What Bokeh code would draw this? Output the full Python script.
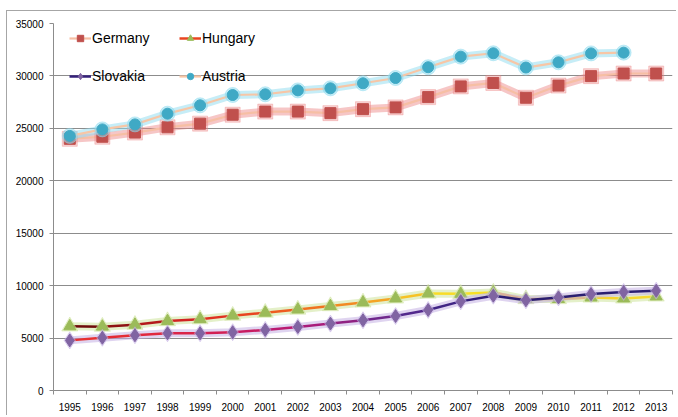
import math
from bokeh.plotting import figure
from bokeh.models import Range1d, FixedTicker, Legend, LegendItem, ColumnDataSource
from bokeh.embed import file_html
from bokeh.resources import INLINE

nan = float("nan")

years = list(range(1995, 2014))
germany = [24000, 24200, 24600, 25100, 25450, 26300, 26600, 26600, 26450, 26830,
           27000, 27980, 29000, 29330, 27920, 29080, 29980, 30230, 30230]
austria = [24280, 24900, 25380, 26400, 27200, 28180, 28250, 28620, 28820, 29300,
           29800, 30830, 31840, 32160, 30800, 31300, 32150, 32220, nan]
hungary = [6120, 6090, 6270, 6620, 6800, 7140, 7420, 7720, 8050, 8400,
           8780, 9250, 9220, 9340, 8720, 8720, 8870, 8780, 8970]
slovakia = [4780, 5030, 5270, 5460, 5460, 5560, 5780, 6060, 6380, 6700,
            7100, 7680, 8500, 9040, 8600, 8880, 9200, 9400, 9520]
y_ticks = [0, 5000, 10000, 15000, 20000, 25000, 30000, 35000]

hun_colors = ["#6E0A0A", "#8E1212", "#B41A1A", "#D22222", "#E03020", "#E84420",
              "#EE5C20", "#F07220", "#F28A22", "#F4A424", "#F6C226", "#F8DC26",
              "#F8E026", "#F2B440", "#F09A34", "#F2C030", "#F6D42C", "#F6D830"]
svk_colors = ["#E83030", "#E42C36", "#E0283E", "#DA2448", "#D22054", "#C81C62",
              "#BA1A70", "#A81C7A", "#902282", "#70288C", "#52288C", "#402484",
              "#34207A", "#2C1E72", "#2A1E70", "#2A1E70", "#2A1E70", "#2A1E70"]

W, H = 670, 405
p = figure(width=W, height=H, output_backend="svg", toolbar_location=None,
           x_range=Range1d(1994.5, 2013.5), y_range=Range1d(0, 35000),
           min_border_left=46, min_border_right=5,
           min_border_top=12, min_border_bottom=26)
p.styles = {"border-left": "1px solid #a6a6a6", "border-top": "1px solid #a6a6a6",
            "margin-left": "6px", "margin-top": "10px"}
p.outline_line_color = None
p.background_fill_color = "white"
p.border_fill_color = "white"

p.xgrid.grid_line_color = None
p.ygrid.grid_line_color = "#8c8c8c"
p.ygrid.ticker = FixedTicker(ticks=y_ticks)

p.xaxis.ticker = FixedTicker(ticks=years, minor_ticks=[y + 0.5 for y in [1994] + years])
p.xaxis.major_tick_out = 0
p.xaxis.major_tick_in = 0
p.xaxis.minor_tick_out = 4
p.xaxis.minor_tick_in = 0
p.xaxis.major_label_standoff = 8
p.yaxis.ticker = FixedTicker(ticks=y_ticks)
p.yaxis.major_tick_out = 4
p.yaxis.major_tick_in = 0
p.yaxis.major_label_standoff = 6
for ax in (p.xaxis, p.yaxis):
    ax.axis_line_color = "#8c8c8c"
    ax.major_tick_line_color = "#8c8c8c"
    ax.minor_tick_line_color = "#8c8c8c"
    ax.major_label_text_font = "Liberation Sans"
    ax.major_label_text_font_size = "10px"
    ax.major_label_text_color = "#000000"
p.yaxis.minor_tick_line_color = None


def seg_source(vals, colors):
    return ColumnDataSource(dict(x0=years[:-1], x1=years[1:], y0=vals[:-1], y1=vals[1:],
                                 c=colors))


# Germany
p.line(years, germany, line_color="#EA8080", line_width=8, line_alpha=0.45)
g_line = p.line(years, germany, line_color="#F6BFA4", line_width=2.2)
p.scatter(years, germany, marker="square", size=15, color="#EA8080", alpha=0.35)
g_pts = p.scatter(years, germany, marker="square", size=11, fill_color="#C0504D",
                  line_color="#C0504D")

# Austria
p.line(years, austria, line_color="#8EDCF0", line_width=8, line_alpha=0.5)
a_line = p.line(years, austria, line_color="#F7C6A6", line_width=2.2)
p.scatter(years, austria, marker="circle", size=15, color="#8EDCF0", alpha=0.5)
a_pts = p.scatter(years, austria, marker="circle", size=11, fill_color="#3FA9C5",
                  line_color="#3FA9C5")

# Hungary
p.line(years, hungary, line_color="#CDE39C", line_width=8, line_alpha=0.55)
h_seg = p.segment("x0", "y0", "x1", "y1", source=seg_source(hungary, hun_colors),
                  line_color="c", line_width=2.5)
p.scatter(years, hungary, marker="triangle", size=16, color="#CDE39C", alpha=0.5)
h_pts = p.scatter(years, hungary, marker="triangle", size=12, fill_color="#9BBB59",
                  line_color="#9BBB59")

# Slovakia
p.line(years, slovakia, line_color="#C4B0E4", line_width=8, line_alpha=0.55)
s_seg = p.segment("x0", "y0", "x1", "y1", source=seg_source(slovakia, svk_colors),
                  line_color="c", line_width=2.5)
p.scatter(years, slovakia, marker="diamond", size=17, color="#C4B0E4", alpha=0.5)
s_pts = p.scatter(years, slovakia, marker="diamond", size=13, fill_color="#8064A2",
                  line_color="#8064A2")

legend = Legend(items=[
    LegendItem(label="Germany", renderers=[g_line, g_pts]),
    LegendItem(label="Hungary", renderers=[h_seg, h_pts], index=5),
    LegendItem(label="Slovakia", renderers=[s_seg, s_pts], index=12),
    LegendItem(label="Austria", renderers=[a_line, a_pts]),
], ncols=2, orientation="horizontal", location=(16, 306))
legend.background_fill_alpha = 0
legend.border_line_color = None
legend.label_text_font = "Liberation Sans"
legend.label_text_font_size = "14px"
legend.label_text_color = "#000000"
legend.glyph_width = 22
legend.glyph_height = 16
legend.label_height = 16
legend.label_width = 65
legend.label_standoff = 1
legend.spacing = 22
legend.padding = 0
legend.margin = 0
p.add_layout(legend, "center")

open("out.html", "w").write(file_html(p, INLINE))
